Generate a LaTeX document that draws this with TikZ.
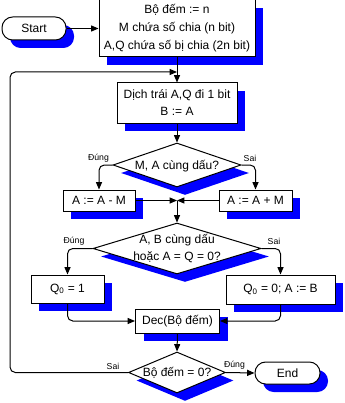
\documentclass[tikz,border=0pt]{standalone}
\usepackage{fontspec}
\setmainfont{Liberation Sans}
\usetikzlibrary{shapes.geometric,shadows,arrows.meta}
\definecolor{shblue}{RGB}{0,0,255}
\begin{document}
\begin{tikzpicture}[x=0.75pt,y=-0.75pt,
  every node/.style={font=\fontsize{9}{12.75}\selectfont, inner sep=0pt},
  shad/.style={drop shadow={shadow xshift=6pt,shadow yshift=-6pt,fill=shblue,opacity=1}},
  procbox/.style={draw, line width=0.75pt, fill=white, shad, align=center},
  termbox/.style={procbox, rounded corners=8pt},
  decbox/.style={draw, diamond, line width=0.75pt, fill=white, shad},
  lbl/.style={font=\fontsize{6.5}{8}\selectfont},
  conn/.style={line width=0.75pt, rounded corners=4pt, -{Triangle[length=5.5pt,width=4.5pt]}},
  wire/.style={line width=0.75pt, rounded corners=4pt},
]
\useasboundingbox (0,0) rectangle (344,403);

\node[termbox, minimum width=48pt, minimum height=17.25pt] (start) at (34,28.5) {Start};
\node[procbox, minimum width=117pt, minimum height=42.75pt, font=\fontsize{9}{13.5}\selectfont] (b1) at (177,28.5)
  {Bộ đếm := n\\M chứa số chia (n bit)\\A,Q chứa số bị chia (2n bit)};
\node[procbox, minimum width=90pt, minimum height=30pt] (b2) at (177,103) {Dịch trái A,Q đi 1 bit\\B := A};

\node[decbox, minimum width=96pt, minimum height=33pt] (d1) at (177,165) {};
\node (d1t) at (177,166) {M, A cùng dấu?};

\node[procbox, minimum width=54pt, minimum height=15.75pt] (amm) at (99,200.5) {A := A - M};
\node[procbox, minimum width=54.75pt, minimum height=15.75pt] (apm) at (255.5,200.5) {A := A + M};
\coordinate (j) at (177,200.5);

\node[decbox, minimum width=126pt, minimum height=38.25pt] (d2) at (177,248.5) {};
\node[align=center] (d2t) at (177,249) {A, B cùng dấu\\hoặc A = Q = 0?};

\node[procbox, minimum width=54.75pt, minimum height=21pt] (q1) at (67.5,289) {Q\textsubscript{0} = 1};
\node[procbox, minimum width=81.75pt, minimum height=21.75pt] (q0) at (280.5,289.5) {Q\textsubscript{0} = 0; A := B};

\node[procbox, minimum width=63pt, minimum height=18pt] (dec) at (177.5,321) {Dec(Bộ đếm)};

\node[decbox, minimum width=72.75pt, minimum height=30.75pt] (d3) at (177,372.5) {};
\node (d3t) at (177,373) {Bộ đếm = 0?};

\node[termbox, minimum width=48.75pt, minimum height=16.5pt] (end) at (287.5,373) {End};

\coordinate (lp) at (10,72);
\coordinate (jt) at (177,72);

% connectors
\draw[conn] (start.east) -- (b1.west);
\draw[conn] (b1.south) -- (b2.north);
\draw[conn] (b2.south) -- (d1.north);
\draw[conn] (d1.west) -| (amm.north);
\draw[conn] (d1.east) -| (apm.north);
\draw[conn] (amm.east) -- (j);
\draw[conn] (apm.west) -- (j);
\draw[conn] (j) -- (d2.north);
\draw[conn] (d2.west) -| (q1.north);
\draw[conn] (d2.east) -| (q0.north);
\draw[conn] (q1.south) |- (dec.west);
\draw[conn] (q0.south) |- (dec.east);
\draw[conn] (dec.south) -- (d3.north);
\draw[conn] (d3.east) -- (end.west);
\draw[conn] (d3.west) -| (lp) -- (jt);

% labels
\node[lbl] (l1) at (98.5,158) {Đúng};
\node[lbl] (l2) at (250,158) {Sai};
\node[lbl] (l3) at (74,241) {Đúng};
\node[lbl] (l4) at (274,241) {Sai};
\node[lbl] (l5) at (113,366) {Sai};
\node[lbl] (l6) at (234.5,365) {Đúng};
\end{tikzpicture}
\end{document}
